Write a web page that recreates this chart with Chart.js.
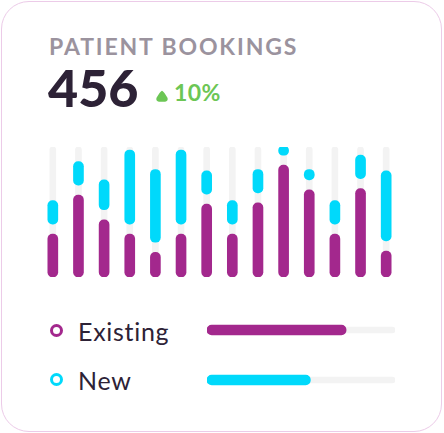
<!DOCTYPE html>
<html>
<head>
<meta charset="utf-8">
<script src="https://cdn.jsdelivr.net/npm/chart.js@4/dist/chart.umd.min.js"></script>
<style>
  html, body { margin:0; padding:0; background:#ffffff; }
  body { width:444px; height:433px; position:relative; overflow:hidden; font-family: Lato, "Open Sans", sans-serif; }
  .card { position:absolute; left:1px; top:1px; width:441px; height:431px; box-sizing:border-box;
          border:1.6px solid #eccbe8; border-radius:28px; background:#fff; }
  .txt { position:absolute; white-space:nowrap; line-height:1.2; }
  #title { left:49px; top:33px; font-size:23px; font-weight:700; color:#9b939e; letter-spacing:1.85px; }
  #total { left:48px; top:56px; font-size:52px; font-weight:900; color:#2d2236; }
  #delta { left:174px; top:79px; font-size:23px; font-weight:700; color:#6cc655; letter-spacing:0.4px; }
  #tri { position:absolute; left:154px; top:89px; }
  .lg { position:absolute; width:7px; height:7px; border-radius:50%; border:3px solid; }
  .lgt { font-size:25px; font-weight:400; color:#2d2236; letter-spacing:0.7px; }
  canvas { position:absolute; }
</style>
</head>
<body>
<div class="card"></div>
<div class="txt" id="title">PATIENT BOOKINGS</div>
<div class="txt" id="total">456</div>
<svg id="tri" width="16" height="14" viewBox="0 0 16 14">
  <path d="M8 2.8 Q6.8 3.4 3.4 9.2 Q2.9 11.6 5 11.8 L11 11.8 Q13.1 11.6 12.6 9.2 Q9.2 3.4 8 2.8 Z" fill="#6cc655" stroke="#6cc655" stroke-width="2" stroke-linejoin="round"/>
</svg>
<div class="txt" id="delta">10%</div>

<canvas id="bars" width="359" height="136" style="left:40px; top:142px; width:359px; height:136px;"></canvas>

<div class="lg" style="left:49.5px; top:323.5px; border-color:#a3288d;"></div>
<div class="txt lgt" style="left:78px; top:315.5px;">Existing</div>
<div class="lg" style="left:49.5px; top:373px; border-color:#00d9fb;"></div>
<div class="txt lgt" style="left:78px; top:365px;">New</div>

<canvas id="share" width="188" height="100" style="left:207px; top:304.5px; width:188px; height:100px;"></canvas>

<script>
// ---- data ----
const days = ['1','2','3','4','5','6','7','8','9','10','11','12','13','14'];
const existingPatients = [33, 63, 44, 33, 19, 33, 56, 33, 57, 86, 67, 33, 68, 20];
const newPatients      = [18, 18, 23, 57, 56, 57, 18, 18, 18,  7,  8, 18, 18, 54];
const seriesNames = ['Existing', 'New'];
const seriesShare = [74, 55];
const totalBookings = 456;
const change = '10%';

// ---- style ----
const PURPLE = '#a3288d';
const CYAN = '#00d9fb';
const TRACK = '#f3f3f3';
const SCALE_MAX = 100;
const GAP = 7.7; // visual gap between the two segments, in scale units

Chart.defaults.font.family = 'Lato, sans-serif';

const bgTrack = days.map(() => [0, SCALE_MAX]);
const existingBars = existingPatients.map(v => [0, v]);
const newBars = newPatients.map((v, i) => [existingPatients[i] + GAP, existingPatients[i] + GAP + v]);

new Chart(document.getElementById('bars'), {
  type: 'bar',
  data: {
    labels: days,
    datasets: [
      { label: seriesNames[0], data: existingBars, backgroundColor: PURPLE, barThickness: 10,
        borderRadius: 5, borderSkipped: false, grouped: false },
      { label: seriesNames[1], data: newBars, backgroundColor: CYAN, barThickness: 10,
        borderRadius: 5, borderSkipped: false, grouped: false },
      { label: 'track', data: bgTrack, backgroundColor: TRACK, barThickness: 6,
        borderRadius: 3, borderSkipped: false, grouped: false }
    ]
  },
  options: {
    responsive: false,
    animation: false,
    devicePixelRatio: 1,
    layout: { padding: { top: 5, bottom: 1, left: 0, right: 0 } },
    scales: {
      x: { display: false },
      y: { display: false, min: 0, max: SCALE_MAX }
    },
    plugins: { legend: { display: false }, tooltip: { enabled: false } }
  }
});

new Chart(document.getElementById('share'), {
  type: 'bar',
  data: {
    labels: seriesNames,
    datasets: [
      { data: seriesShare, backgroundColor: [PURPLE, CYAN], barThickness: 10,
        borderRadius: 5, borderSkipped: false, grouped: false },
      { data: seriesNames.map(() => 100), backgroundColor: TRACK, barThickness: 6,
        borderRadius: 3, borderSkipped: false, grouped: false }
    ]
  },
  options: {
    indexAxis: 'y',
    responsive: false,
    animation: false,
    devicePixelRatio: 1,
    layout: { padding: 0 },
    scales: {
      x: { display: false, min: 0, max: 100 },
      y: { display: false }
    },
    plugins: { legend: { display: false }, tooltip: { enabled: false } }
  }
});

document.getElementById('total').textContent = String(totalBookings);
document.getElementById('delta').textContent = change;
</script>
</body>
</html>
